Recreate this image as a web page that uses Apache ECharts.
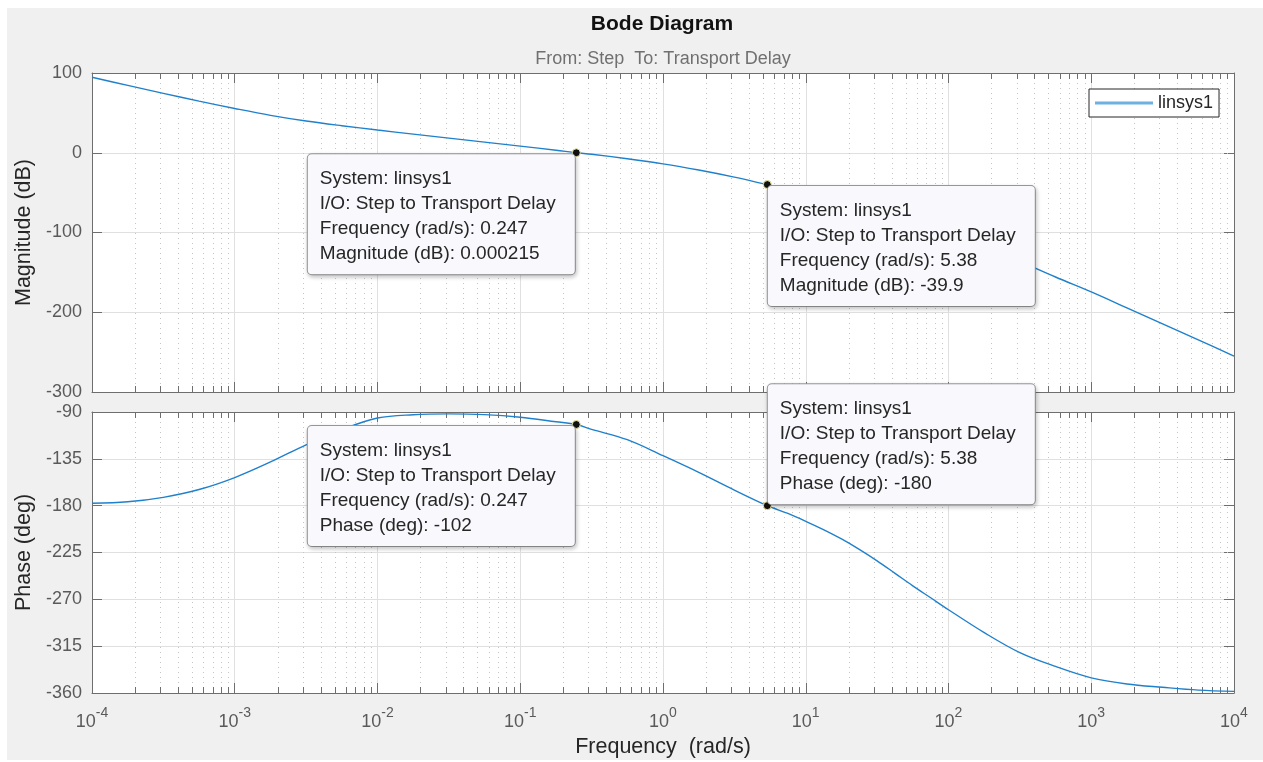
<!DOCTYPE html>
<html><head><meta charset="utf-8">
<script src="https://cdn.jsdelivr.net/npm/echarts@6/dist/echarts.min.js"></script>
<style>
html,body{margin:0;padding:0;background:#fff;width:1263px;height:762px;overflow:hidden}
#c{position:absolute;left:7px;top:8px;width:1256px;height:752px;}
</style>
</head><body><div id="c"></div>
<script>
// ---- data ----
const freq = [1e-4, 1.78e-4, 3.16e-4, 5.62e-4, 1e-3, 1.78e-3, 3.16e-3, 5.62e-3, 0.01, 0.0178, 0.0316, 0.0562,
  0.1, 0.178, 0.247, 0.316, 0.562, 1, 1.78, 3.16, 5.38, 7.5, 10, 13.3, 17.8, 23.7, 31.6, 42.2, 56.2, 75, 100,
  178, 316, 562, 1000, 1778, 3162, 5623, 10000];
const magnitudeDb = [94.6, 84.4, 74.5, 64.7, 55.5, 46.9, 39.8, 33.9, 28.5, 23.4, 18.4, 13.3,
  8.3, 3.2, 0.000215, -1.9, -7.5, -13.9, -21.7, -30.6, -39.9, -45.5, -50.2, -55.3, -60.6, -65.8, -71.5, -77.5, -84.1, -91.3, -99.3,
  -117.1, -136.1, -155.8, -174.5, -194.5, -214.5, -234.5, -255];
const phaseDeg = [-177.7, -176.3, -172, -164.5, -153, -138, -121.5, -107, -95.8, -92.6, -91.8, -92.5,
  -95.0, -99.4, -102, -106.7, -116.6, -132, -148, -165, -180, -187.5, -195, -203, -212, -222, -233, -245, -257, -268.5, -280,
  -302, -321.2, -334.5, -345.4, -351.3, -354.5, -357.2, -358.4];
const tipFreq = [0.247, 5.38];
const tipMag = ['0.000215', '-39.9'];
const tipPhase = ['-102', '-180'];
const magTicks = {min: -300, max: 100, step: 100};
const phaseTicks = {min: -360, max: -90, step: 45};
const freqRange = {min: 1e-4, max: 1e4};
const minorMantissas = [2, 3, 4, 5, 6, 7, 8, 9];
const decadeExps = [-4, -3, -2, -1, 0, 1, 2, 3];
const seriesName = 'linsys1';

// ---- styling ----
const FONT = '"Liberation Sans", Arial, Helvetica, sans-serif';
const AXIS = '#6e6e6e';
const TICKTXT = '#5a5a5a';
const GRID = '#e0e0e0';
const LINE = '#1f80cc';
const TIPW = 243, TIPPAD = [12, 12, 8, 12];
const TIPOUTER = TIPW + TIPPAD[1] + TIPPAD[3] + 1;

const minorFreqs = [];
decadeExps.forEach(e => minorMantissas.forEach(m => minorFreqs.push(m * Math.pow(10, e))));

const chart = echarts.init(document.getElementById('c'), null, {renderer: 'canvas'});

function xAxisBase(gi, pos, labels) {
  return {
    type: 'log', logBase: 10, gridIndex: gi, position: pos,
    min: freqRange.min, max: freqRange.max, interval: 1, splitNumber: 8,
    axisLine: {show: true, onZero: false, lineStyle: {color: AXIS, width: 1}},
    axisTick: {show: true, inside: true, length: 10, lineStyle: {color: AXIS}},
    splitLine: {show: pos === 'bottom', lineStyle: {color: GRID, width: 1}},
    axisLabel: labels ? {
      show: true, margin: 13,
      formatter: v => '{b|10}{s|' + Math.round(Math.log10(v)) + '}',
      rich: {
        b: {fontSize: 18, color: TICKTXT, fontFamily: FONT, verticalAlign: 'bottom'},
        s: {fontSize: 14, color: TICKTXT, fontFamily: FONT, verticalAlign: 'bottom', padding: [0, 0, 11, 0]}
      }
    } : {show: false},
    name: labels ? 'Frequency  (rad/s)' : '',
    nameLocation: 'middle', nameGap: 43,
    nameTextStyle: {fontSize: 21.5, color: '#262626', fontFamily: FONT}
  };
}
function yAxisBase(gi, pos, t, name) {
  return {
    type: 'value', gridIndex: gi, position: pos,
    min: t.min, max: t.max, interval: t.step,
    axisLine: {show: true, onZero: false, lineStyle: {color: AXIS, width: 1}},
    axisTick: {show: true, inside: true, length: 10, lineStyle: {color: AXIS}},
    splitLine: {show: pos === 'left', lineStyle: {color: GRID, width: 1}},
    axisLabel: pos === 'left' ? {show: true, margin: 10, fontSize: 18, color: TICKTXT, fontFamily: FONT} : {show: false},
    name: name || '', nameLocation: 'middle', nameGap: 56, nameRotate: 90,
    nameTextStyle: {fontSize: 21.5, color: '#262626', fontFamily: FONT}
  };
}

function minorRender(params, api) {
  const cs = params.coordSys;
  const p = api.coord([api.value(0), api.value(1)]);
  const x = Math.round(p[0]) + 0.5;
  const top = cs.y, bot = cs.y + cs.height;
  return {type: 'group', children: [
    {type: 'line', shape: {x1: x, y1: top, x2: x, y2: bot}, style: {stroke: '#c4c4c4', lineWidth: 1, lineDash: [1, 4]}, silent: true},
    {type: 'line', shape: {x1: x, y1: bot, x2: x, y2: bot - 6}, style: {stroke: AXIS, lineWidth: 1}, silent: true},
    {type: 'line', shape: {x1: x, y1: top, x2: x, y2: top + 6}, style: {stroke: AXIS, lineWidth: 1}, silent: true}
  ]};
}

// side: 'left' => box to the left of the point; vpos: 'below' or 'above'
function tipLabel(lines, side, vpos) {
  return {
    show: true,
    position: [side === 'left' ? 4 - TIPOUTER : 5, vpos === 'below' ? 6 : 3],
    align: 'left', verticalAlign: vpos === 'below' ? 'top' : 'bottom',
    formatter: lines.join('\n'),
    backgroundColor: '#f8f8fd', borderColor: '#9a9a9a', borderWidth: 1, borderRadius: 4,
    padding: TIPPAD, width: TIPW, lineHeight: 25, fontSize: 19, color: '#262626', fontFamily: FONT,
    opacity: 1,
    shadowColor: 'rgba(0,0,0,0.2)', shadowBlur: 4, shadowOffsetX: 1, shadowOffsetY: 2
  };
}
function tipSeries(xi, yi, f, v, lines, side, vpos) {
  return {
    type: 'scatter', xAxisIndex: xi, yAxisIndex: yi, z: 10, silent: true,
    symbol: 'circle', symbolSize: 8,
    itemStyle: {color: '#111', borderColor: '#f4f0a0', borderWidth: 1, opacity: 1},
    data: [[f, Number(v)]],
    label: tipLabel(lines, side, vpos),
    emphasis: {disabled: true}
  };
}

const magData = freq.map((f, i) => [f, magnitudeDb[i]]);
const phaseData = freq.map((f, i) => [f, phaseDeg[i]]);

const option = {
  backgroundColor: '#f0f0f0',
  animation: false,
  graphic: [
    {type: 'text', x: 655, y: 16, style: {text: 'Bode Diagram', align: 'center', verticalAlign: 'middle', font: 'bold 21px ' + FONT, fill: '#111'}},
    {type: 'text', x: 656, y: 51, style: {text: 'From: Step  To: Transport Delay', align: 'center', verticalAlign: 'middle', font: '18px ' + FONT, fill: '#707070'}}
  ],
  legend: {
    data: [{name: seriesName, icon: 'rect', itemStyle: {color: '#6fb0e2'}}],
    left: 1082, top: 81, orient: 'vertical',
    backgroundColor: '#fff', borderColor: '#262626', borderWidth: 1, borderRadius: 0,
    padding: [5, 6, 5, 6], itemWidth: 58, itemHeight: 3, itemGap: 0,
    textStyle: {fontSize: 18, color: '#262626', fontFamily: FONT, lineHeight: 18}
  },
  grid: [
    {left: 85, top: 65, width: 1142, height: 319, show: true, backgroundColor: '#fff', borderWidth: 0, outerBoundsMode: 'none', containLabel: false},
    {left: 85, top: 404, width: 1142, height: 281, show: true, backgroundColor: '#fff', borderWidth: 0, outerBoundsMode: 'none', containLabel: false}
  ],
  xAxis: [xAxisBase(0, 'bottom', false), xAxisBase(1, 'bottom', true), xAxisBase(0, 'top', false), xAxisBase(1, 'top', false)],
  yAxis: [yAxisBase(0, 'left', magTicks, 'Magnitude (dB)'), yAxisBase(1, 'left', phaseTicks, 'Phase (deg)'),
          yAxisBase(0, 'right', magTicks), yAxisBase(1, 'right', phaseTicks)],
  series: [
    {type: 'custom', xAxisIndex: 0, yAxisIndex: 0, renderItem: minorRender, data: minorFreqs.map(f => [f, -100]), silent: true, z: 1, clip: false},
    {type: 'custom', xAxisIndex: 1, yAxisIndex: 1, renderItem: minorRender, data: minorFreqs.map(f => [f, -180]), silent: true, z: 1, clip: false},
    {name: seriesName, type: 'line', xAxisIndex: 0, yAxisIndex: 0, data: magData, symbol: 'none', smooth: 0.35, z: 3,
     lineStyle: {color: LINE, width: 1.4}, itemStyle: {color: LINE}},
    {name: seriesName, type: 'line', xAxisIndex: 1, yAxisIndex: 1, data: phaseData, symbol: 'none', smooth: 0.35, z: 3,
     lineStyle: {color: LINE, width: 1.4}, itemStyle: {color: LINE}},
    tipSeries(0, 0, tipFreq[0], tipMag[0], ['System: ' + seriesName, 'I/O: Step to Transport Delay', 'Frequency (rad/s): ' + tipFreq[0], 'Magnitude (dB): ' + tipMag[0]], 'left', 'below'),
    tipSeries(0, 0, tipFreq[1], tipMag[1], ['System: ' + seriesName, 'I/O: Step to Transport Delay', 'Frequency (rad/s): ' + tipFreq[1], 'Magnitude (dB): ' + tipMag[1]], 'right', 'below'),
    tipSeries(1, 1, tipFreq[0], tipPhase[0], ['System: ' + seriesName, 'I/O: Step to Transport Delay', 'Frequency (rad/s): ' + tipFreq[0], 'Phase (deg): ' + tipPhase[0]], 'left', 'below'),
    tipSeries(1, 1, tipFreq[1], tipPhase[1], ['System: ' + seriesName, 'I/O: Step to Transport Delay', 'Frequency (rad/s): ' + tipFreq[1], 'Phase (deg): ' + tipPhase[1]], 'right', 'above')
  ]
};
chart.setOption(option);
</script>
</body></html>
